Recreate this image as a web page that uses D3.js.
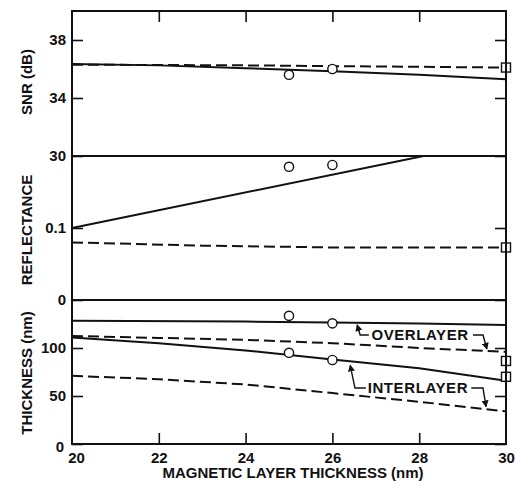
<!DOCTYPE html>
<html>
<head>
<meta charset="utf-8">
<script src="https://cdn.jsdelivr.net/npm/d3@7"></script>
<style>
  body { margin: 0; background: #fff; }
  text { font-family: 'Liberation Sans', Arial, sans-serif; font-weight: bold; fill: #111; }
</style>
</head>
<body>
<div id="chart"></div>
<script>
const xTicks = [20, 22, 24, 26, 28, 30]
const snrTicks = [38, 34, 30]
const refTicks = [0.1, 0]
const thkTicks = [100, 50, 0]

// SNR (dB)
const snrSolid = [[20, 36.35], [22, 36.25], [24, 36.05], [26, 35.85], [28, 35.6], [30, 35.3]]
const snrDashed = [[20, 36.3], [24, 36.25], [28, 36.15], [30, 36.1]]
const snrCircles = [[25, 35.6], [26, 36.0]]
const snrSquares = [[30, 36.1]]

// reflectance
const refSolid = [[20, 0.1], [28.1, 0.2], [30, 0.2]]
const refDashed = [[20, 0.08], [23, 0.0755], [26, 0.073], [30, 0.073]]
const refCircles = [[25, 0.185], [26, 0.1875]]
const refSquares = [[30, 0.073]]

// thickness (nm)
const overSolid = [[20, 128.5], [24, 127.5], [26, 126.5], [28, 125.5], [30, 124]]
const overDashed = [[20, 112.5], [22, 110.5], [24, 108.5], [26, 105], [28, 100], [30, 96]]
const interSolid = [[20, 111], [22, 105], [24, 97.5], [26, 88], [28, 79], [30, 66]]
const interDashed = [[20, 71], [22, 67.5], [24, 62], [26, 53], [28, 44], [30, 34]]
const thkCircles = [[25, 133.5], [26, 125.7], [25, 95], [26, 87.5]]
const thkSquares = [[30, 86.5], [30, 70]]

// labels with leader lines (data units)
const layerLabels = [
  { text: 'OVERLAYER', x: 28.02, y: 113.5,
    left: [[26.84, 113.5], [26.64, 113.5], [26.57, 124]],
    right: [[29.24, 113.5], [29.47, 113.5], [29.56, 99]] },
  { text: 'INTERLAYER', x: 27.97, y: 58.3,
    left: [[26.77, 58.3], [26.52, 58.3], [26.41, 82]],
    right: [[29.2, 58.3], [29.47, 58.3], [29.54, 39]] }
]

const width = 516
const height = 484

const svg = d3.select('#chart')
  .append('svg')
  .attr('width', width)
  .attr('height', height)

const x = d3.scaleLinear().domain([20, 30]).range([72, 506])
const ySnr = d3.scaleLinear().domain([30, 40]).range([156, 11])
const yRef = d3.scaleLinear().domain([0, 0.2]).range([300, 156])
const yThk = d3.scaleLinear().domain([0, 150]).range([444, 300])

svg.append('defs')
  .append('marker')
  .attr('id', 'arrow')
  .attr('viewBox', '0 0 8 8')
  .attr('refX', 7)
  .attr('refY', 4)
  .attr('markerWidth', 7)
  .attr('markerHeight', 7)
  .attr('markerUnits', 'userSpaceOnUse')
  .attr('orient', 'auto')
  .append('path')
  .attr('d', 'M0,0 L8,4 L0,8 z')
  .attr('fill', '#111')

const panels = [
  { y: ySnr, ticks: snrTicks, fmt: d => d, solid: [snrSolid], dashed: [snrDashed],
    circles: snrCircles, squares: snrSquares, title: 'SNR (dB)', titleY: 82 },
  { y: yRef, ticks: refTicks, fmt: d => d, solid: [refSolid], dashed: [refDashed],
    circles: refCircles, squares: refSquares, title: 'REFLECTANCE', titleY: 230 },
  { y: yThk, ticks: thkTicks, fmt: d => d, solid: [overSolid, interSolid], dashed: [overDashed, interDashed],
    circles: thkCircles, squares: thkSquares, title: 'THICKNESS (nm)', titleY: 373 }
]

panels.forEach(function(p, i) {
  const g = svg.append('g').attr('class', 'panel-' + i)

  const line = d3.line().x(d => x(d[0])).y(d => p.y(d[1]))

  // left axis
  const left = g.append('g')
    .attr('transform', 'translate(' + x(20) + ',0)')
    .call(d3.axisLeft(p.y).tickValues(p.ticks).tickFormat(p.fmt)
      .tickSizeInner(-11).tickSizeOuter(0).tickPadding(6))
  left.select('.domain').remove()
  left.selectAll('text').attr('font-size', 15).attr('fill', '#111')
  left.selectAll('line').attr('stroke', '#111').attr('stroke-width', 1.6)

  // right axis, ticks only
  const right = g.append('g')
    .attr('transform', 'translate(' + x(30) + ',0)')
    .call(d3.axisRight(p.y).tickValues(p.ticks).tickFormat('')
      .tickSizeInner(-11).tickSizeOuter(0))
  right.select('.domain').remove()
  right.selectAll('line').attr('stroke', '#111').attr('stroke-width', 1.6)

  p.solid.forEach(function(s) {
    g.append('path')
      .datum(s)
      .attr('d', line)
      .attr('fill', 'none')
      .attr('stroke', '#111')
      .attr('stroke-width', 2)
  })

  p.dashed.forEach(function(s) {
    g.append('path')
      .datum(s)
      .attr('d', line)
      .attr('fill', 'none')
      .attr('stroke', '#111')
      .attr('stroke-width', 2)
      .attr('stroke-dasharray', '11,5')
  })

  g.selectAll('.circ')
    .data(p.circles)
    .enter()
    .append('circle')
    .attr('cx', d => x(d[0]))
    .attr('cy', d => p.y(d[1]))
    .attr('r', 4.6)
    .attr('fill', '#fff')
    .attr('stroke', '#111')
    .attr('stroke-width', 1.4)

  g.selectAll('.sq')
    .data(p.squares)
    .enter()
    .append('rect')
    .attr('x', d => x(d[0]) - 4.5)
    .attr('y', d => p.y(d[1]) - 4.5)
    .attr('width', 9)
    .attr('height', 9)
    .attr('fill', '#fff')
    .attr('stroke', '#111')
    .attr('stroke-width', 1.4)

  g.append('text')
    .text(p.title)
    .attr('transform', 'translate(27,' + p.titleY + ') rotate(-90)')
    .attr('text-anchor', 'middle')
    .attr('dy', '0.35em')
    .attr('font-size', 15)
})

// separator lines between panels
svg.selectAll('.sep')
  .data([ySnr(30), yRef(0)])
  .enter()
  .append('line')
  .attr('x1', x(20))
  .attr('x2', x(30))
  .attr('y1', d => d)
  .attr('y2', d => d)
  .attr('stroke', '#111')
  .attr('stroke-width', 1.8)

// bottom axis
const xAxisG = svg.append('g')
  .attr('transform', 'translate(0,' + yThk(0) + ')')
  .call(d3.axisBottom(x).tickValues(xTicks).tickFormat(d => d)
    .tickSizeInner(-11).tickSizeOuter(0).tickPadding(8))
xAxisG.select('.domain').remove()
xAxisG.selectAll('text').attr('font-size', 15).attr('fill', '#111')
xAxisG.selectAll('line').attr('stroke', '#111').attr('stroke-width', 1.6)
xAxisG.selectAll('.tick').filter(d => d === 20 || d === 30).select('line').remove()
xAxisG.selectAll('.tick').filter(d => d === 20).select('text').attr('dx', 4)

// bottom-left zero of the thickness axis sits a little low
svg.select('.panel-2').selectAll('.tick').filter(d => d === 0).select('text')
  .attr('dy', '0.5em').attr('x', -8)

// top ticks
const topAxisG = svg.append('g')
  .attr('transform', 'translate(0,' + ySnr(40) + ')')
  .call(d3.axisTop(x).tickValues(xTicks.slice(1, -1)).tickFormat('')
    .tickSizeInner(-11).tickSizeOuter(0))
topAxisG.select('.domain').remove()
topAxisG.selectAll('line').attr('stroke', '#111').attr('stroke-width', 1.6)

// frame
svg.append('rect')
  .attr('x', x(20))
  .attr('y', ySnr(40))
  .attr('width', x(30) - x(20))
  .attr('height', yThk(0) - ySnr(40))
  .attr('fill', 'none')
  .attr('stroke', '#111')
  .attr('stroke-width', 2)

svg.append('text')
  .text('MAGNETIC LAYER THICKNESS (nm)')
  .attr('x', (x(20) + x(30)) / 2 + 4)
  .attr('y', 478)
  .attr('text-anchor', 'middle')
  .attr('font-size', 15)

// layer labels
const lbl = svg.selectAll('.layer-label')
  .data(layerLabels)
  .enter()
  .append('g')
  .attr('class', 'layer-label')

lbl.append('text')
  .text(d => d.text)
  .attr('x', d => x(d.x))
  .attr('y', d => yThk(d.y))
  .attr('dy', '0.35em')
  .attr('text-anchor', 'middle')
  .attr('font-size', 15)
  .attr('letter-spacing', 0.6)

const leader = d3.line().x(d => x(d[0])).y(d => yThk(d[1]))

lbl.each(function(d) {
  const g = d3.select(this)
  ;[d.left, d.right].forEach(function(pts) {
    g.append('path')
      .attr('d', leader(pts))
      .attr('fill', 'none')
      .attr('stroke', '#111')
      .attr('stroke-width', 1.4)
      .attr('marker-end', 'url(#arrow)')
  })
})
</script>
</body>
</html>
